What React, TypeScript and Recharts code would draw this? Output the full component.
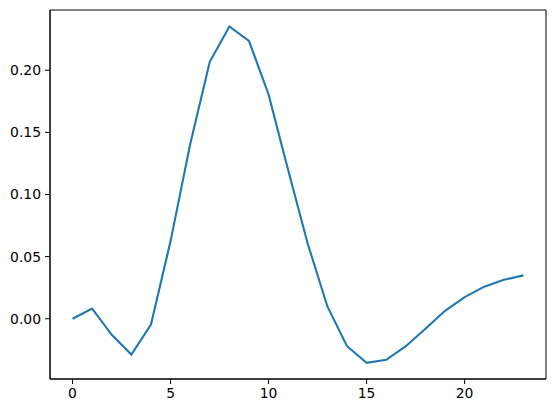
import { Line, LineChart, ReferenceArea, XAxis, YAxis } from "recharts";

const steps = [0, 1, 2, 3, 4, 5, 6, 7, 8, 9, 10, 11, 12, 13, 14, 15, 16, 17, 18, 19, 20, 21, 22, 23];
const values = [
  0.0, 0.0081, -0.0129, -0.0288, -0.0046, 0.0625, 0.1404, 0.2068, 0.2352, 0.2236, 0.1805, 0.1195,
  0.0602, 0.0099, -0.0221, -0.0355, -0.033, -0.0221, -0.0081, 0.0064, 0.0174, 0.0258, 0.0314, 0.0349,
];
const xTicks = [0, 5, 10, 15, 20];
const yTicks = [0, 0.05, 0.1, 0.15, 0.2];

const X_DOMAIN = [-1.15, 24.15];
const Y_DOMAIN = [-0.0485, 0.2485];

const data = steps.map((s, i) => ({ x: s, y: values[i] }));

const tickStyle = { fontSize: 13.9, fill: "#000", fontFamily: "DejaVu Sans" };

export default function App() {
  return (
    <div style={{ position: "absolute", left: 0, top: 0, background: "#fff" }}>
      <LineChart
        width={556}
        height={413}
        data={data}
        margin={{ top: 10, right: 10, bottom: 0, left: 0 }}
      >
        <XAxis
          dataKey="x"
          type="number"
          domain={X_DOMAIN}
          ticks={xTicks}
          allowDataOverflow
          height={34}
          tickSize={5}
          tickMargin={4}
          tick={tickStyle}
          axisLine={{ stroke: "#000", strokeWidth: 1 }}
          tickLine={{ stroke: "#000" }}
        />
        <YAxis
          type="number"
          domain={Y_DOMAIN}
          ticks={yTicks}
          allowDataOverflow
          width={50}
          tickSize={5}
          tickMargin={4}
          tick={tickStyle}
          tickFormatter={(v) => Number(v).toFixed(2)}
          axisLine={{ stroke: "#000", strokeWidth: 1 }}
          tickLine={{ stroke: "#000" }}
        />
        {/* axes frame */}
        <ReferenceArea
          x1={X_DOMAIN[0]}
          x2={X_DOMAIN[1]}
          y1={Y_DOMAIN[0]}
          y2={Y_DOMAIN[1]}
          fill="none"
          stroke="#000"
          strokeWidth={1}
          ifOverflow="visible"
        />
        <Line
          type="linear"
          dataKey="y"
          stroke="#1f77b4"
          strokeWidth={2.1}
          dot={false}
          isAnimationActive={false}
        />
      </LineChart>
    </div>
  );
}
